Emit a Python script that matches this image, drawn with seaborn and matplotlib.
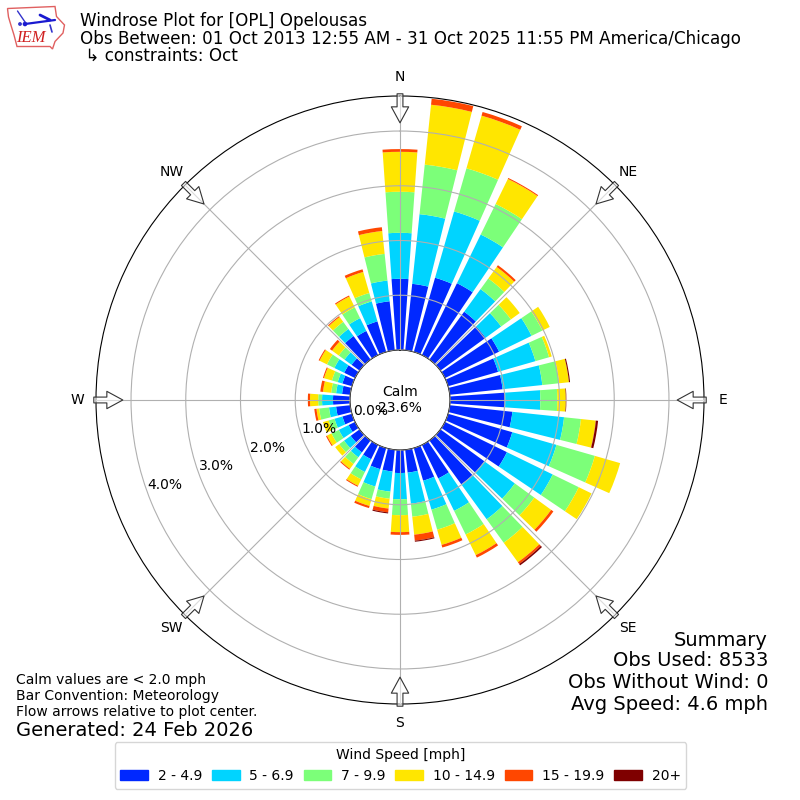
import numpy as np
import pandas as pd
import matplotlib
matplotlib.use("Agg")
import matplotlib.pyplot as plt
import seaborn as sns
from matplotlib.patches import Patch, Polygon, Circle

directions = [0, 10, 20, 30, 40, 50, 60, 70, 80, 90, 100, 110, 120, 130, 140, 150, 160, 170,
              180, 190, 200, 210, 220, 230, 240, 250, 260, 270, 280, 290, 300, 310, 320, 330, 340, 350]
speed_2_5 = [1.30, 1.22, 1.41, 1.46, 1.08, 1.02, 1.10, .95, .97, 1.01, 1.15, 1.22, 1.26, .99, .99, .68, .62, .42,
             .42, .40, .40, .29, .27, .20, .13, .18, .26, .31, .15, .18, .22, .18, .53, .49, .58, .90]
speed_5_7 = [.84, 1.28, 1.26, .99, .51, .35, .66, .71, .73, .64, .95, .84, .93, .69, .79, .66, .55, .57,
             .48, .37, .33, .26, .11, .15, .20, .15, .13, .20, .11, .09, .20, .16, .16, .26, .38, .38]
speed_7_10 = [.75, .91, .82, .62, .24, .22, .22, .26, .31, .31, .31, .73, .53, .44, .53, .48, .38, .24,
              .29, .13, .24, .15, .15, .11, .15, .11, .18, .07, .09, .11, .15, .13, .16, .22, .16, .49]
speed_10_15 = [.73, 1.10, 1.00, .51, .26, .20, .15, .05, .18, .155, .27, .48, .26, .38, .44, .42, .29, .33,
               .31, .18, .13, .13, .11, .09, .09, .11, .05, .15, .15, .15, .15, .15, .11, .22, .40, .42]
speed_15_20 = [.05, .11, .07, .02, .04, 0, 0, 0, 0, 0, .005, 0, 0, .05, .04, .05, .05, .11,
               .05, .07, .04, .02, .02, 0, .02, 0, .04, .04, .05, .02, .02, .05, .02, .02, .05, .07]
speed_20p = [0, 0, 0, 0, 0, 0, 0, 0, .02, .01, .04, 0, 0, 0, .03, 0, 0, .02,
             0, .02, 0, 0, 0, 0, 0, 0, 0, 0, 0, 0, 0, 0, 0, 0, 0, 0]
speed_labels = ["2 - 4.9", "5 - 6.9", "7 - 9.9", "10 - 14.9", "15 - 19.9", "20+"]
speed_colors = ["#0028ff", "#00d4ff", "#7cff79", "#ffe600", "#ff4700", "#7f0000"]
compass_angles = [0, 45, 90, 135, 180, 225, 270, 315]
compass_labels = ["N", "NE", "E", "SE", "S", "SW", "W", "NW"]
ring_values = [0, 1, 2, 3, 4]

sns.set_style("white", {"font.family": ["DejaVu Sans"]})
plt.rcParams["font.family"] = ["DejaVu Sans"]
plt.rcParams["text.color"] = "black"
plt.rcParams["axes.labelcolor"] = "black"
plt.rcParams["xtick.color"] = "black"
plt.rcParams["ytick.color"] = "black"

fig = plt.figure(figsize=(8, 8), dpi=100)
ax = fig.add_axes([0.12, 0.12, 0.76, 0.76], projection="polar")
ax.set_theta_zero_location("N")
ax.set_theta_direction(-1)

theta = np.deg2rad(np.array(directions, dtype=float))
series = [speed_2_5, speed_5_7, speed_7_10, speed_10_15, speed_15_20, speed_20p]
cum = np.zeros(len(directions))
for vals, col in zip(series, speed_colors):
    vals = np.array(vals, dtype=float)
    df = pd.DataFrame({"theta": theta, "pct": vals})
    sns.barplot(data=df, x="theta", y="pct", native_scale=True, ax=ax, color=col,
                saturation=1, width=0.8, bottom=cum, errorbar=None, linewidth=0, edgecolor="none")
    cum = cum + vals

ax.set_xlabel("")
ax.set_ylabel("")
ax.set_xlim(0, 2 * np.pi)
ax.set_rlim(0, 4.64)
ax.set_rorigin(-0.914)
ax.set_thetagrids(compass_angles, compass_labels, fontsize=10)
ax.set_rgrids(ring_values, labels=[""] * len(ring_values))
ax.grid(True, color="#b0b0b0", linewidth=0.8)
ax.set_axisbelow(False)
ax.tick_params(axis="x", pad=3, colors="black")
for s in ax.spines.values():
    s.set_edgecolor("black")
    s.set_linewidth(0.8)

for v in ring_values:
    ax.text(np.deg2rad(250.2), v - 0.342, f"{v:.1f}%", ha="center", va="center", fontsize=10, color="black", clip_on=False)

for a in compass_angles:
    ax.annotate("", xy=(np.deg2rad(a), 4.15), xytext=(np.deg2rad(a), 4.68), annotation_clip=False,
                arrowprops=dict(width=4.2, headwidth=12.5, headlength=11.5, shrink=0,
                                facecolor=(1, 1, 1, 0.55), edgecolor="#333333", linewidth=0.8))

fig.text(400 / 800, 1 - 400 / 800, "Calm\n23.6%", ha="center", va="center", fontsize=10)

title_lines = ["Windrose Plot for [OPL] Opelousas",
               "Obs Between: 01 Oct 2013 12:55 AM - 31 Oct 2025 11:55 PM America/Chicago",
               " \u21b3 constraints: Oct"]
for y, t in zip([21, 39, 56], title_lines):
    fig.text(80 / 800, 1 - y / 800, t, ha="left", va="center", fontsize=12.05)

summary_lines = ["Summary", "Obs Used: 8533", "Obs Without Wind: 0", "Avg Speed: 4.6 mph"]
for y, t in zip([640, 661, 683, 705], summary_lines):
    fig.text(768 / 800, 1 - y / 800, t, ha="right", va="center", fontsize=14)

note_lines = ["Calm values are < 2.0 mph", "Bar Convention: Meteorology", "Flow arrows relative to plot center."]
for y, t in zip([680, 696, 712], note_lines):
    fig.text(16 / 800, 1 - y / 800, t, ha="left", va="center", fontsize=10)
fig.text(16 / 800, 1 - 730 / 800, "Generated: 24 Feb 2026", ha="left", va="center", fontsize=14)

handles = [Patch(color=c, label=l) for c, l in zip(speed_colors, speed_labels)]
fig.legend(handles=handles, title="Wind Speed [mph]", ncol=6, fontsize=10, title_fontsize=10,
           loc="center", bbox_to_anchor=(400.5 / 800, 1 - 765.5 / 800), frameon=True,
           edgecolor="#cccccc", handlelength=2, handletextpad=0.7, columnspacing=0.7)

# small logo
logo = fig.add_axes([0, 1 - 60 / 800, 70 / 800, 60 / 800])
logo.set_xlim(0, 70)
logo.set_ylim(60, 0)
logo.axis("off")
logo.add_patch(Polygon([(7.5, 8.5), (55, 6.5), (56.5, 16.5), (64.5, 25), (63, 33), (55, 41.5), (52.5, 49),
                        (50, 46.5), (17, 46.5), (14, 35), (11.5, 27), (8.5, 17)],
                       closed=True, fill=False, edgecolor="#e06060", linewidth=1))
logo.plot([25, 55], [24, 20], color="#1a1ad0", linewidth=1.6)
logo.plot([40, 50], [15, 20], color="#1a1ad0", linewidth=2)
logo.plot([17.5, 25], [11, 22], color="#3333cc", linewidth=1)
logo.plot([50, 52], [25, 32], color="#3333cc", linewidth=1.2)
logo.add_patch(Circle((25, 24), 1.6, color="#1a1ad0"))
logo.add_patch(Circle((20, 24), 1.2, color="#3333cc"))
logo.text(30.5, 38, "IEM", color="#d02020", fontsize=12, family="Liberation Serif", style="italic",
          ha="center", va="center")

fig.savefig("out.png", dpi=100)
